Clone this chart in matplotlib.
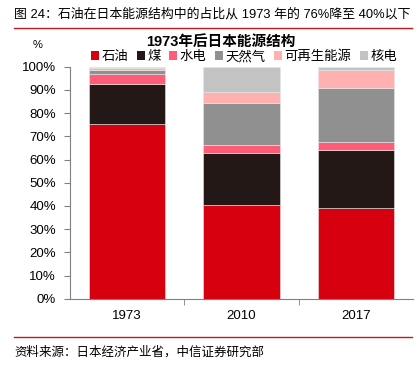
import matplotlib
matplotlib.use("Agg")
import matplotlib.pyplot as plt
import numpy as np
from matplotlib.patches import Patch

plt.rcParams['font.family'] = ['Liberation Sans', 'Noto Sans CJK SC', 'DejaVu Sans']

# data (share of primary energy, %)
years = ["1973", "2010", "2017"]
sources = ["石油", "煤", "水电", "天然气", "可再生能源", "核电"]
oil = [75.5, 40.3, 39.0]
coal = [16.9, 22.7, 25.1]
hydro = [4.4, 3.3, 3.5]
gas = [1.6, 18.2, 23.4]
renew = [0.9, 4.4, 7.6]
nuclear = [0.7, 11.1, 1.4]
colors = ["#D7000F", "#231815", "#FF5C77", "#909090", "#FFB1B1", "#C3C3C3"]

series = [oil, coal, hydro, gas, renew, nuclear]

fig = plt.figure(figsize=(4.17, 3.70), dpi=100)
W, H = 417, 370
ax = fig.add_axes([70 / W, 1 - 298.7 / H, 343 / W, 232 / H])

x = np.arange(len(years))
bottom = np.zeros(len(years))
for vals, c in zip(series, colors):
    ax.bar(x, vals, width=0.67, bottom=bottom, color=c,
           edgecolor="#e8e8e8", linewidth=0.4)
    bottom += np.array(vals)

ax.set_xlim(-0.5, 2.5)
ax.set_ylim(0, 100)
ax.set_yticks(np.arange(0, 101, 10))
ax.set_yticklabels([f"{v}%" for v in range(0, 101, 10)], fontsize=9.5)
ax.set_xticks(x)
ax.set_xticklabels(years, fontsize=9.5)
ax.set_xticks([0.5, 1.5], minor=True)
ax.tick_params(axis="x", which="major", length=0, pad=8)
ax.tick_params(axis="x", which="minor", length=4, color="#808080")
ax.tick_params(axis="y", length=4, color="#808080", pad=6)
for s in ["top", "right"]:
    ax.spines[s].set_visible(False)
for s in ["left", "bottom"]:
    ax.spines[s].set_color("#808080")
    ax.spines[s].set_linewidth(0.8)

handles = [Patch(facecolor=c, edgecolor="none") for c in colors]
fig.legend(handles, sources, loc="center", bbox_to_anchor=(244 / W, 1 - 57 / H),
           ncol=6, frameon=False, fontsize=9.6, handlelength=0.6, handleheight=0.6,
           handletextpad=0.2, columnspacing=0.62, borderaxespad=0)

fig.text(221 / W, 1 - 42 / H, "1973年后日本能源结构", ha="center", va="center",
         fontsize=10.5, fontweight="bold")
fig.text(38 / W, 1 - 45 / H, "%", ha="center", va="center", fontsize=8)

fig.text(14 / W, 1 - 14 / H, "图 24：石油在日本能源结构中的占比从 1973 年的 76%降至 40%以下",
         ha="left", va="center", fontsize=9.3)
fig.add_artist(plt.Line2D([14 / W, 412 / W], [1 - 28 / H, 1 - 28 / H],
                          color="#C8161D", linewidth=1))
fig.add_artist(plt.Line2D([14 / W, 412 / W], [1 - 337 / H, 1 - 337 / H],
                          color="#C8161D", linewidth=1))
fig.text(14 / W, 1 - 352 / H, "资料来源：日本经济产业省，中信证券研究部",
         ha="left", va="center", fontsize=9)

fig.savefig("out.png", dpi=100)
